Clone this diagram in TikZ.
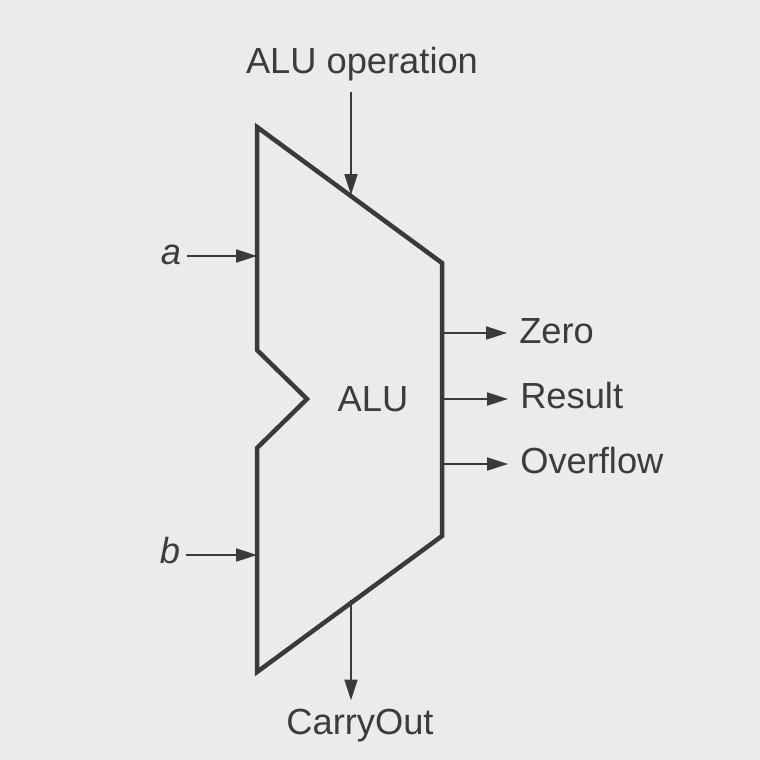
\documentclass[tikz,border=0pt]{standalone}
\usepackage{fontspec}
\setmainfont{Liberation Sans}
\usetikzlibrary{arrows.meta,calc}
\definecolor{aluInk}{RGB}{58,58,58}
\definecolor{aluText}{RGB}{60,60,60}
\definecolor{aluPaper}{RGB}{235,235,235}
\tikzset{
    base/.style={font=\fontsize{25.8}{30}\selectfont, text=aluText, inner sep=0pt},
    body/.style={draw=aluInk, line width=3.2pt, line join=miter},
    signal/.style={base},
    flow/.style={-{Triangle[length=0.52cm,width=0.32cm]}, line width=1.6pt, color=aluInk}
}

\begin{document}
\begin{tikzpicture}[x=0.025cm, y=-0.025cm]
  % paper
  \fill[aluPaper] (0,0) rectangle (760,760);
  \useasboundingbox (0,0) rectangle (760,760);

  % ALU body
  \draw[body] (257,127) -- (442,263) -- (442,536) -- (257,672)
              -- (257,448) -- (307,399) -- (257,350) -- cycle;
  \node[base, anchor=base] (alu) at (373,411) {ALU};

  % ports on the body
  \coordinate (opIn) at (351,195);
  \coordinate (aIn) at (257,256);
  \coordinate (bIn) at (257,555);
  \coordinate (zeroOut) at (442,333);
  \coordinate (resOut) at (442,399);
  \coordinate (ovfOut) at (442,464);
  \coordinate (coOut) at (351,600);

  % signal names
  \node[signal, anchor=base] (op) at (362,74) {ALU operation};
  \node[signal, anchor=base] (a) at (171,265) {\textit{a}};
  \node[signal, anchor=base] (b) at (170,563) {\textit{b}};
  \node[signal, anchor=base west] (zero) at (519,343) {Zero};
  \node[signal, anchor=base west] (res) at (520,408) {Result};
  \node[signal, anchor=base west] (ovf) at (520,473) {Overflow};
  \node[signal, anchor=base] (co) at (360,734) {CarryOut};

  % inputs
  \draw[flow, shorten <=0.25cm] (op.south -| opIn) -- (opIn);
  \draw[flow, shorten <=0.15cm] (a.east |- aIn) -- (aIn);
  \draw[flow, shorten <=0.15cm] (b.east |- bIn) -- (bIn);

  % outputs
  \draw[flow, shorten >=0.3cm] (zeroOut) -- (zero.west |- zeroOut);
  \draw[flow, shorten >=0.3cm] (resOut) -- (res.west |- resOut);
  \draw[flow, shorten >=0.3cm] (ovfOut) -- (ovf.west |- ovfOut);
  \draw[flow, shorten >=0.2cm] (coOut) -- (co.north -| coOut);
\end{tikzpicture}
\end{document}
